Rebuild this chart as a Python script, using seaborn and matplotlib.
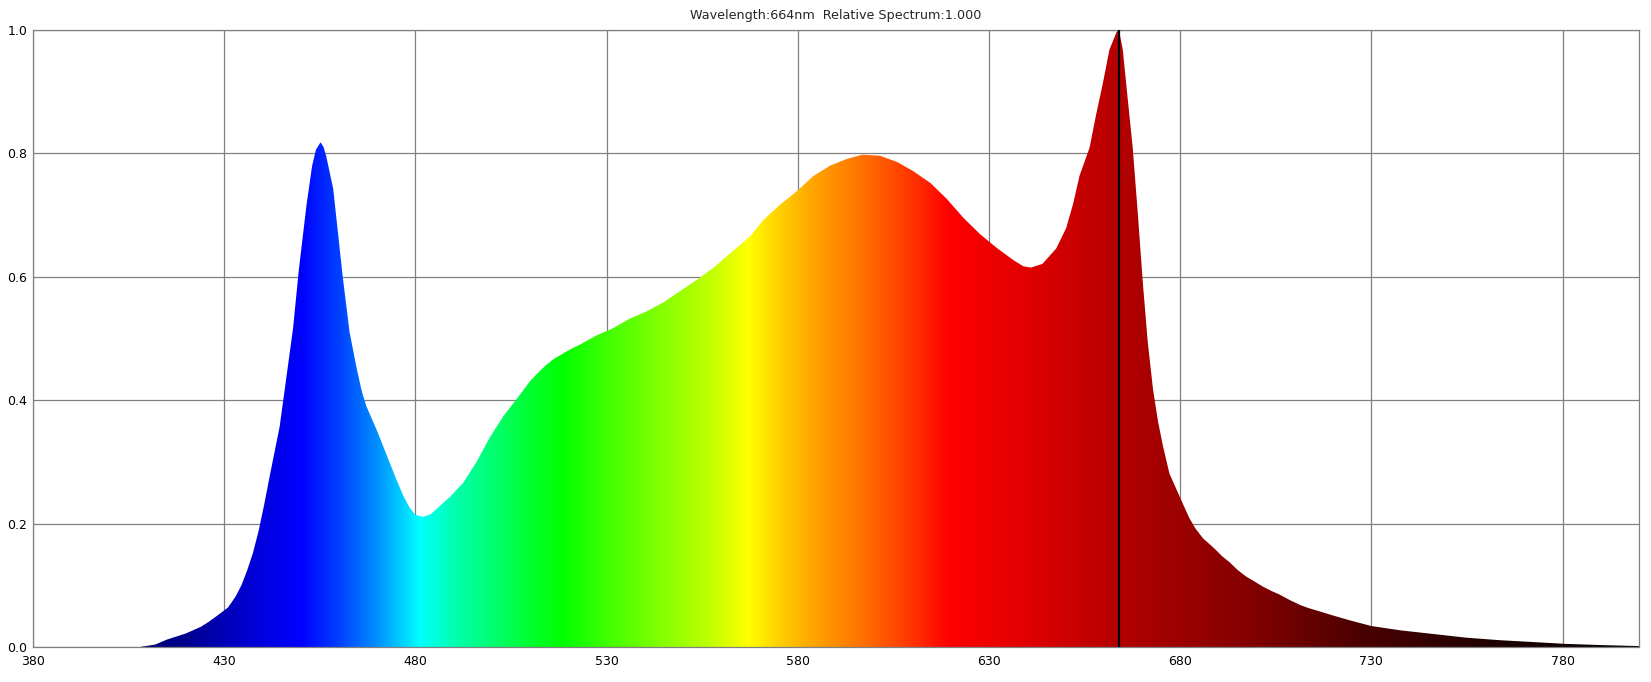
import numpy as np
import pandas as pd
import matplotlib
matplotlib.use("Agg")
import matplotlib.pyplot as plt
import seaborn as sns
from matplotlib.patches import PathPatch
from matplotlib.colors import to_rgb

# spectrum (nm, relative)
wavelength = [408, 412, 415, 420, 424, 426, 428, 431, 433, 434.5, 436, 437.5, 439, 440.5,
              442, 444.5, 446, 448, 449.5, 451.5, 453, 454, 455.2, 456, 456.7, 458.5, 459.8,
              461, 462.8, 464.6, 466, 467.2, 470, 472.5, 475, 477, 478.5, 480, 482, 484,
              487, 489, 492.5, 496, 499.5, 503, 506.5, 510, 512, 514, 516, 518.7, 521, 523,
              527.4, 531.8, 536, 540.5, 545, 549, 553.6, 558, 562.3, 567.6, 571, 575.4, 580,
              584, 588.4, 592.8, 597, 601.6, 606, 610, 614.7, 619, 623.4, 627.7, 632, 636.4,
              639, 641, 644, 647.6, 650.2, 652, 653.7, 656.3, 658, 659.8, 661.5, 663.4, 664,
              665, 666.3, 667.6, 668.9, 670.2, 671.5, 672.9, 674.2, 675.5, 677.2, 680, 682.4,
              684, 686, 688, 689.4, 691, 693, 695, 697.3, 699.5, 701.6, 703.8, 706, 708.7,
              711.4, 713.6, 715.8, 720, 724.5, 730, 737.6, 746.3, 755, 763.7, 772.4, 781,
              790.7, 800]
relative = [0.0, 0.004, 0.012, 0.022, 0.033, 0.041, 0.05, 0.064, 0.082, 0.1, 0.124, 0.152,
            0.188, 0.232, 0.28, 0.357, 0.425, 0.516, 0.61, 0.715, 0.78, 0.806, 0.818, 0.81,
            0.795, 0.743, 0.669, 0.6, 0.51, 0.453, 0.414, 0.39, 0.35, 0.311, 0.272, 0.243,
            0.226, 0.214, 0.211, 0.215, 0.232, 0.243, 0.266, 0.3, 0.34, 0.374, 0.402, 0.431,
            0.444, 0.456, 0.466, 0.476, 0.484, 0.49, 0.505, 0.517, 0.532, 0.544, 0.559,
            0.576, 0.595, 0.615, 0.638, 0.666, 0.692, 0.717, 0.74, 0.763, 0.78, 0.791, 0.798,
            0.796, 0.786, 0.772, 0.752, 0.726, 0.695, 0.669, 0.647, 0.627, 0.617, 0.615,
            0.621, 0.646, 0.679, 0.718, 0.764, 0.809, 0.862, 0.914, 0.968, 0.997, 1.0, 0.968,
            0.888, 0.809, 0.705, 0.594, 0.496, 0.418, 0.366, 0.326, 0.281, 0.242, 0.209,
            0.192, 0.176, 0.165, 0.157, 0.147, 0.137, 0.125, 0.114, 0.106, 0.098, 0.091,
            0.085, 0.076, 0.068, 0.063, 0.059, 0.051, 0.043, 0.034, 0.027, 0.021, 0.015,
            0.011, 0.008, 0.005, 0.003, 0.0015]

peak_nm = 664
peak_value = 1.000
x_ticks = [380, 430, 480, 530, 580, 630, 680, 730, 780]
y_ticks = [0.0, 0.2, 0.4, 0.6, 0.8, 1.0]

# colour of the fill along the wavelength axis
color_nm = [380, 408, 420, 430, 440, 450, 460, 470, 481, 490, 500, 510, 518, 530, 545,
            557, 567, 575, 585, 595, 604, 612, 619, 640, 664, 680, 700, 728, 760, 800]
color_hex = ["#000070", "#000070", "#000090", "#0000b8", "#0000e0", "#0000ff", "#0040ff",
             "#0090ff", "#00ffff", "#00ffb0", "#00ff70", "#00ff30", "#00ff00", "#40ff00",
             "#88ff00", "#c0ff00", "#ffff00", "#ffd000", "#ffa000", "#ff7800", "#ff5000",
             "#ff2800", "#ff0000", "#e00000", "#b40000", "#9c0000", "#800000", "#4a0000",
             "#200000", "#000000"]

sns.set_style("white")
plt.rcParams['font.family'] = ['DejaVu Sans']

df = pd.DataFrame({"wavelength": wavelength, "relative": relative})

fig = plt.figure(figsize=(16.51, 6.82), dpi=100)
ax = fig.add_axes([33 / 1651, 35 / 682, 1606 / 1651, 617 / 682])

# area under the curve, used as clip for the colour gradient
poly = ax.fill_between(df["wavelength"], df["relative"], 0, facecolor="none", edgecolor="none")
clip = PathPatch(poly.get_paths()[0], transform=ax.transData, facecolor="none", edgecolor="none")
ax.add_patch(clip)

grid_nm = np.arange(380, 800.01, 0.25)
rgb = np.array([to_rgb(c) for c in color_hex])
grad = np.stack([np.interp(grid_nm, color_nm, rgb[:, k]) for k in range(3)], axis=-1)
im = ax.imshow(grad[np.newaxis, :, :], extent=(380, 800, 0, 1), aspect="auto",
               origin="lower", interpolation="bilinear", zorder=2)
im.set_clip_path(clip)

sns.lineplot(data=df, x="wavelength", y="relative", ax=ax, lw=0, zorder=2)

ax.axvline(peak_nm, color="black", lw=1.6, zorder=3)

ax.set_xlim(380, 800)
ax.set_ylim(0, 1)
ax.set_xticks(x_ticks)
ax.set_yticks(y_ticks)
ax.set_yticklabels([f"{v:.1f}" for v in y_ticks])
ax.set_xlabel("")
ax.set_ylabel("")
ax.grid(True, color="#808080", lw=0.9)
ax.set_axisbelow(True)
for s in ax.spines.values():
    s.set_color("#808080")
    s.set_linewidth(0.9)
ax.tick_params(length=0, labelsize=9, colors="black")
ax.tick_params(axis="x", pad=6)
ax.tick_params(axis="y", pad=4)
ax.set_title(f"Wavelength:{peak_nm}nm  Relative Spectrum:{peak_value:.3f}", fontsize=9.2, pad=8)

fig.savefig("out.png", dpi=100)
